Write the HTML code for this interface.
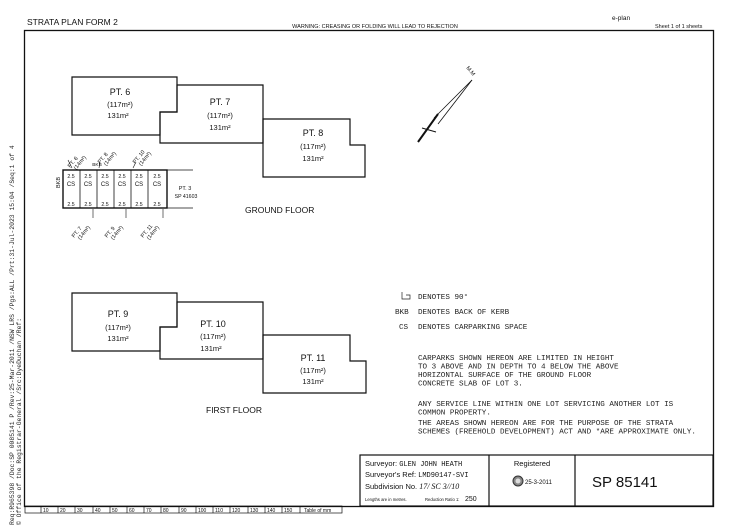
<!DOCTYPE html>
<html><head><meta charset="utf-8"><style>
html,body{margin:0;padding:0;background:#fff;}
svg{display:block;}
text{font-family:"Liberation Sans",sans-serif;fill:#111;}
text.m,.m text{font-family:"Liberation Mono",monospace;font-size:7.6px;fill:#222;}
</style></head><body>
<svg width="750" height="530" viewBox="0 0 750 530" xmlns="http://www.w3.org/2000/svg">
<rect width="750" height="530" fill="#fff"/>
<text x="27" y="25" font-size="8.5">STRATA PLAN FORM 2</text>
<text x="375" y="28" font-size="5.5" text-anchor="middle">WARNING: CREASING OR FOLDING WILL LEAD TO REJECTION</text>
<text x="612" y="20" font-size="6.5">e-plan</text>
<text x="655" y="28" font-size="5.5">Sheet  1  of  1 sheets</text>
<rect x="24.5" y="30.5" width="689" height="476" fill="none" stroke="#111" stroke-width="1.3"/>
<g transform="translate(14,525) rotate(-90)"><text class="m" style="font-size:6.4px" x="0" y="0">Req:R965398 /Doc:SP 0085141 P /Rev:25-Mar-2011 /NSW LRS /Pgs:ALL /Prt:31-Jul-2023 15:04 /Seq:1 of 4</text></g>
<g transform="translate(21,525) rotate(-90)"><text class="m" style="font-size:6.4px" x="0" y="0">© Office of the Registrar-General /Src:DyeDuchan /Ref:</text></g>
<g fill="none" stroke="#111" stroke-width="1.2">
<polygon points="72,77 177,77 177,112 160,112 160,135 72,135"/>
<polygon points="160,112 177,112 177,85 263,85 263,143 160,143"/>
<polygon points="263,119 350,119 350,145 365,145 365,177 263,177"/>
<polygon points="72,293 177,293 177,327 160,327 160,351 72,351"/>
<polygon points="160,327 177,327 177,302 263,302 263,359 160,359"/>
<polygon points="263,335 350,335 350,361 366,361 366,393 263,393"/>
</g>
<g font-size="9" text-anchor="middle">
<text x="120" y="95">PT. 6</text><text x="120" y="107" font-size="7.5">(117m²)</text><text x="118" y="118" font-size="7.5">131m²</text>
<text x="220" y="105">PT. 7</text><text x="220" y="118" font-size="7.5">(117m²)</text><text x="220" y="130" font-size="7.5">131m²</text>
<text x="313" y="136">PT. 8</text><text x="313" y="149" font-size="7.5">(117m²)</text><text x="313" y="161" font-size="7.5">131m²</text>
<text x="118" y="317">PT. 9</text><text x="118" y="330" font-size="7.5">(117m²)</text><text x="118" y="341" font-size="7.5">131m²</text>
<text x="213" y="327">PT. 10</text><text x="213" y="339" font-size="7.5">(117m²)</text><text x="211" y="351" font-size="7.5">131m²</text>
<text x="313" y="361">PT. 11</text><text x="313" y="373" font-size="7.5">(117m²)</text><text x="313" y="384" font-size="7.5">131m²</text>
</g>
<text x="245" y="213" font-size="8.5">GROUND FLOOR</text>
<text x="206" y="413" font-size="8.5">FIRST FLOOR</text>
<g stroke="#111" fill="none">
<rect x="63" y="170" width="104" height="38" stroke-width="1.4"/>
<line x1="167" y1="170" x2="193" y2="170" stroke-width="0.8"/>
<line x1="167" y1="208" x2="193" y2="208" stroke-width="0.8"/>
<g stroke-width="0.8">
<line x1="80" y1="170" x2="80" y2="208"/><line x1="97" y1="170" x2="97" y2="208"/>
<line x1="114" y1="170" x2="114" y2="208"/><line x1="131" y1="170" x2="131" y2="208"/>
<line x1="148" y1="170" x2="148" y2="208"/>
</g>
<path d="M72,168 L68,160 M99,168 L100,162 M133,168 L136,162 M93,209 L93,218 M126,209 L126,218 M163,209 L163,218" stroke-width="0.6"/>
</g>
<g font-size="5.2" text-anchor="middle">
<text x="71" y="178">2.5</text><text x="88" y="178">2.5</text><text x="105" y="178">2.5</text><text x="122" y="178">2.5</text><text x="139" y="178">2.5</text><text x="157" y="178">2.5</text>
<text x="71" y="186" font-size="6">CS</text><text x="88" y="186" font-size="6">CS</text><text x="105" y="186" font-size="6">CS</text><text x="122" y="186" font-size="6">CS</text><text x="139" y="186" font-size="6">CS</text><text x="157" y="186" font-size="6">CS</text>
<text x="71" y="206">2.5</text><text x="88" y="206">2.5</text><text x="105" y="206">2.5</text><text x="122" y="206">2.5</text><text x="139" y="206">2.5</text><text x="157" y="206">2.5</text>
<text x="97" y="166" font-size="4.8">BKB</text>
<text x="185" y="190" font-size="5.5">PT. 3</text>
<text x="186" y="198" font-size="5.2">SP 41603</text>
</g>
<g font-size="5.5">
<text transform="translate(60,188) rotate(-90)">BKB</text>
<text transform="translate(70,168) rotate(-50)">PT. 6</text><text transform="translate(76,170) rotate(-50)">(14m²)</text>
<text transform="translate(100,164) rotate(-50)">PT. 8</text><text transform="translate(106,166) rotate(-50)">(14m²)</text>
<text transform="translate(135,164) rotate(-50)">PT. 10</text><text transform="translate(141,166) rotate(-50)">(14m²)</text>
<text transform="translate(74,238) rotate(-50)">PT. 7</text><text transform="translate(80,240) rotate(-50)">(14m²)</text>
<text transform="translate(107,238) rotate(-50)">PT. 9</text><text transform="translate(113,240) rotate(-50)">(14m²)</text>
<text transform="translate(143,238) rotate(-50)">PT. 11</text><text transform="translate(149,240) rotate(-50)">(14m²)</text>
</g>
<g stroke="#111" fill="none">
<line x1="418" y1="142" x2="438" y2="114" stroke-width="2"/>
<line x1="434" y1="118" x2="472" y2="80" stroke-width="0.8"/>
<line x1="438" y1="124" x2="472" y2="80" stroke-width="0.8"/>
<line x1="422" y1="128" x2="436" y2="132" stroke-width="1"/>
</g>
<text transform="translate(466,68) rotate(50)" font-size="5.5">M.M</text>
<g class="m">
<path d="M402,292 v7 h8 v-4 h-4" stroke="#222" fill="none" stroke-width="0.7"/>
<text x="418" y="299">DENOTES 90°</text>
<text x="395" y="314">BKB</text><text x="418" y="314">DENOTES BACK OF KERB</text>
<text x="399" y="329">CS</text><text x="418" y="329">DENOTES CARPARKING SPACE</text>
<text x="418" y="360">CARPARKS SHOWN HEREON ARE LIMITED IN HEIGHT</text>
<text x="418" y="368.5">TO 3 ABOVE AND IN DEPTH TO 4 BELOW THE ABOVE</text>
<text x="418" y="377">HORIZONTAL SURFACE OF THE GROUND FLOOR</text>
<text x="418" y="385.5">CONCRETE SLAB OF LOT 3.</text>
<text x="418" y="406">ANY SERVICE LINE WITHIN ONE LOT SERVICING ANOTHER LOT IS</text>
<text x="418" y="414.5">COMMON PROPERTY.</text>
<text x="418" y="425">THE AREAS SHOWN HEREON ARE FOR THE PURPOSE OF THE STRATA</text>
<text x="418" y="433.5">SCHEMES (FREEHOLD DEVELOPMENT) ACT AND *ARE APPROXIMATE ONLY.</text>
</g>
<g stroke="#111" fill="none" stroke-width="1.2">
<rect x="360" y="455" width="353" height="51"/>
<line x1="489" y1="455" x2="489" y2="506"/>
<line x1="575" y1="455" x2="575" y2="506"/>
</g>
<text x="365" y="466" font-size="7.5">Surveyor: <tspan font-family="Liberation Mono" font-size="7">GLEN JOHN HEATH</tspan></text>
<text x="365" y="477" font-size="7.5">Surveyor's Ref: <tspan font-family="Liberation Mono" font-size="7">LMD90147-SVI</tspan></text>
<text x="365" y="489" font-size="7.5">Subdivision No. <tspan font-style="italic" font-family="Liberation Serif" font-size="8">17/ SC 3//10</tspan></text>
<text x="365" y="501" font-size="4.2">Lengths are in metres.</text>
<text x="425" y="501" font-size="4.2">Reduction Ratio 1:</text><text x="465" y="501" font-size="7">250</text>
<text x="532" y="466" font-size="7.5" text-anchor="middle">Registered</text>
<circle cx="518" cy="481" r="5" fill="#888" stroke="#333" stroke-width="1"/>
<circle cx="518" cy="481" r="2.5" fill="#ddd"/>
<text x="525" y="484" font-size="6">25-3-2011</text>
<text x="592" y="487" font-size="15">SP 85141</text>
<g stroke="#111" fill="none" stroke-width="0.7">
<rect x="25" y="506" width="317" height="7"/>
<line x1="41" y1="506" x2="41" y2="513"/><line x1="58" y1="506" x2="58" y2="513"/><line x1="75" y1="506" x2="75" y2="513"/><line x1="93" y1="506" x2="93" y2="513"/><line x1="110" y1="506" x2="110" y2="513"/><line x1="127" y1="506" x2="127" y2="513"/><line x1="144" y1="506" x2="144" y2="513"/><line x1="161" y1="506" x2="161" y2="513"/><line x1="179" y1="506" x2="179" y2="513"/><line x1="196" y1="506" x2="196" y2="513"/><line x1="213" y1="506" x2="213" y2="513"/><line x1="230" y1="506" x2="230" y2="513"/><line x1="248" y1="506" x2="248" y2="513"/><line x1="265" y1="506" x2="265" y2="513"/><line x1="282" y1="506" x2="282" y2="513"/><line x1="300" y1="506" x2="300" y2="513"/>
</g>
<g font-size="5">
<text x="43" y="512">10</text><text x="60" y="512">20</text><text x="77" y="512">30</text><text x="95" y="512">40</text><text x="112" y="512">50</text><text x="129" y="512">60</text><text x="146" y="512">70</text><text x="163" y="512">80</text><text x="181" y="512">90</text><text x="198" y="512">100</text><text x="215" y="512">110</text><text x="232" y="512">120</text><text x="250" y="512">130</text><text x="267" y="512">140</text><text x="284" y="512">150</text><text x="304" y="512">Table of mm</text>
</g>
</svg>
</body></html>
